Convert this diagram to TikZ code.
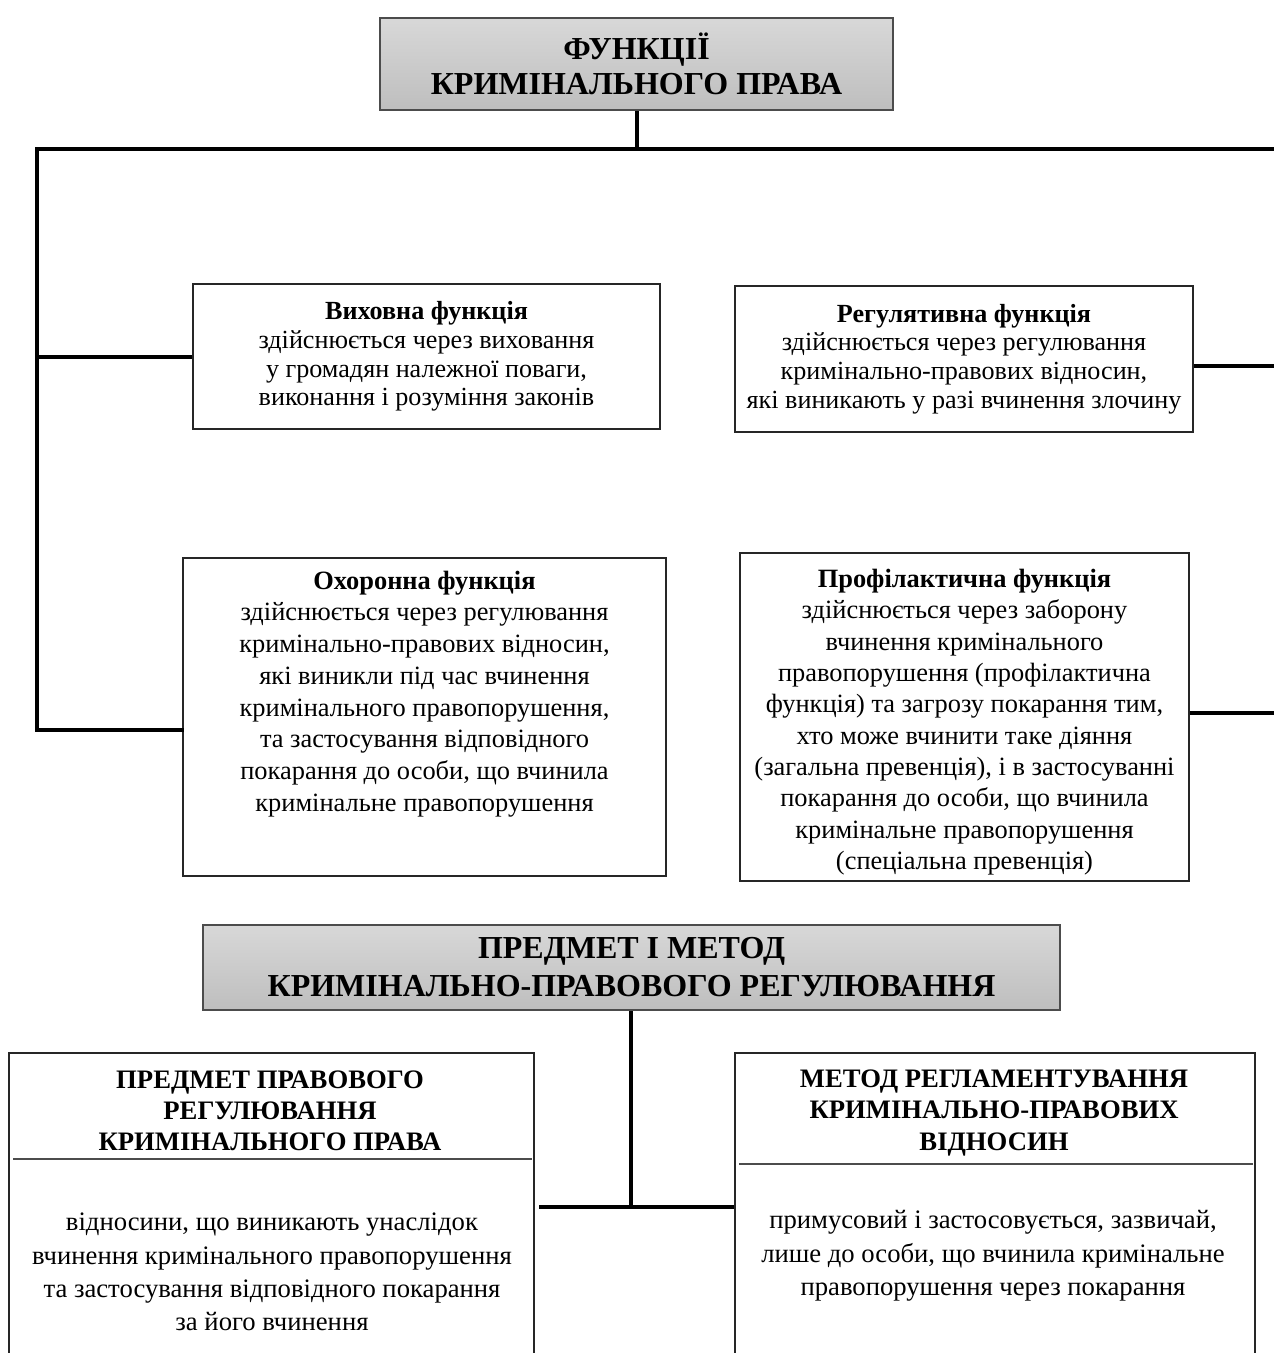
\documentclass[tikz,border=0pt]{standalone}
\usepackage{fontspec}
\setmainfont{Liberation Serif}
\definecolor{gtop}{RGB}{216,216,216}
\definecolor{gbot}{RGB}{190,190,190}
\begin{document}
\begin{tikzpicture}[x=0.75pt,y=-0.75pt,
  conn/.style={line width=3pt, black},
  box/.style={draw=black!85, line width=1.5pt, fill=white, inner sep=0pt},
  titlebox/.style={draw=black!70, line width=1.5pt, top color=gtop, bottom color=gbot, inner sep=0pt, align=center},
  divline/.style={draw=black!70, line width=1.2pt},
  t1font/.style={font=\bfseries\fontsize{24}{26.3}\selectfont},
  t2font/.style={font=\bfseries\fontsize{24}{28.5}\selectfont},
  smallbox/.style={box, align=center, font=\fontsize{19.6}{21.6}\selectfont},
  bigtxt/.style={align=center, inner sep=0pt, font=\fontsize{19.8}{23.8}\selectfont},
  headtxt/.style={align=center, inner sep=0pt, font=\bfseries\fontsize{20}{23.3}\selectfont},
  bottxt/.style={align=center, inner sep=0pt, font=\fontsize{20}{25}\selectfont}
]
\useasboundingbox (0,0) rectangle (1274,1353);
\clip (0,0) rectangle (1274,1353);
\fill[white] (0,0) rectangle (1274,1353);

% title 1
\node[titlebox, t1font, minimum width=513*0.75pt, minimum height=92*0.75pt] (T1) at (636.5,64)
  {ФУНКЦІЇ\\КРИМІНАЛЬНОГО ПРАВА};

% function boxes
\node[smallbox, minimum width=467*0.75pt, minimum height=145*0.75pt] (V) at (426.5,356.5)
  {\textbf{Виховна функція}\\здійснюється через виховання\\у громадян належної поваги,\\виконання і розуміння законів};
\node[smallbox, minimum width=458*0.75pt, minimum height=146*0.75pt] (R) at (964,359)
  {\textbf{Регулятивна функція}\\здійснюється через регулювання\\кримінально-правових відносин,\\які виникають у разі вчинення злочину};
\node[box, minimum width=483*0.75pt, minimum height=318*0.75pt] (O) at (424.5,717) {};
\node[bigtxt] (Ot) at (424.5,694)
  {\textbf{Охоронна функція}\\здійснюється через регулювання\\кримінально-правових відносин,\\які виникли під час вчинення\\кримінального правопорушення,\\та застосування відповідного\\покарання до особи, що вчинила\\кримінальне правопорушення};
\node[box, minimum width=449*0.75pt, minimum height=328*0.75pt] (P) at (964.5,717) {};
\node[bigtxt, font=\fontsize{19.8}{23.5}\selectfont] (Pt) at (964.5,722)
  {\textbf{Профілактична функція}\\здійснюється через заборону\\вчинення кримінального\\правопорушення (профілактична\\функція) та загрозу покарання тим,\\хто може вчинити таке діяння\\(загальна превенція), і в застосуванні\\покарання до особи, що вчинила\\кримінальне правопорушення\\(спеціальна превенція)};

% connectors of the upper part
\coordinate (TL) at (37,149);
\coordinate (TR) at (1290,149);
\coordinate (LB) at (37,730);
\coordinate (RR) at (1290,366);
\coordinate (RB) at (1290,713);
\draw[conn] (T1.south) -- (T1.south |- TL);
\draw[conn, line cap=rect] (TR) -- (TL) -- (LB) -- (LB -| O.west);
\draw[conn] (TL |- V.west) -- (V.west);
\draw[conn] (RR -| R.east) -- (RR) -- (TR);
\draw[conn] (RB -| P.east) -- (RB) -- (RR);

% title 2
\node[titlebox, t2font, minimum width=857*0.75pt, minimum height=85*0.75pt] (T2) at (631.5,967.5)
  {ПРЕДМЕТ І МЕТОД\\КРИМІНАЛЬНО-ПРАВОВОГО РЕГУЛЮВАННЯ};

% bottom boxes
\node[box, minimum width=525*0.75pt, minimum height=360*0.75pt, anchor=north west] (L) at (8,1052) {};
\node[box, minimum width=520*0.75pt, minimum height=360*0.75pt, anchor=north west] (Rb) at (734,1052) {};
\coordinate (Ld) at (0,1159);
\coordinate (Rd) at (0,1164);
\draw[divline] ([xshift=4pt]L.west |- Ld) -- ([xshift=-2.5pt]L.east |- Ld);
\draw[divline] ([xshift=4pt]Rb.west |- Rd) -- ([xshift=-2pt]Rb.east |- Rd);
\node[headtxt] (Lh) at (270,1111) {ПРЕДМЕТ ПРАВОВОГО\\РЕГУЛЮВАННЯ\\КРИМІНАЛЬНОГО ПРАВА};
\node[headtxt] (Rh) at (994,1113) {МЕТОД РЕГЛАМЕНТУВАННЯ\\КРИМІНАЛЬНО-ПРАВОВИХ\\ВІДНОСИН};
\node[bottxt] (Lt) at (272,1272) {відносини, що виникають унаслідок\\вчинення кримінального правопорушення\\та застосування відповідного покарання\\за його вчинення};
\node[bottxt] (Rt) at (993,1256) {примусовий і застосовується, зазвичай,\\лише до особи, що вчинила кримінальне\\правопорушення через покарання};

% connectors of the lower part
\coordinate (BJ) at (631,1207);
\draw[conn] (T2.south -| BJ) -- (BJ);
\draw[conn] ([xshift=3pt]L.east |- BJ) -- (Rb.west |- BJ);
\end{tikzpicture}
\end{document}
